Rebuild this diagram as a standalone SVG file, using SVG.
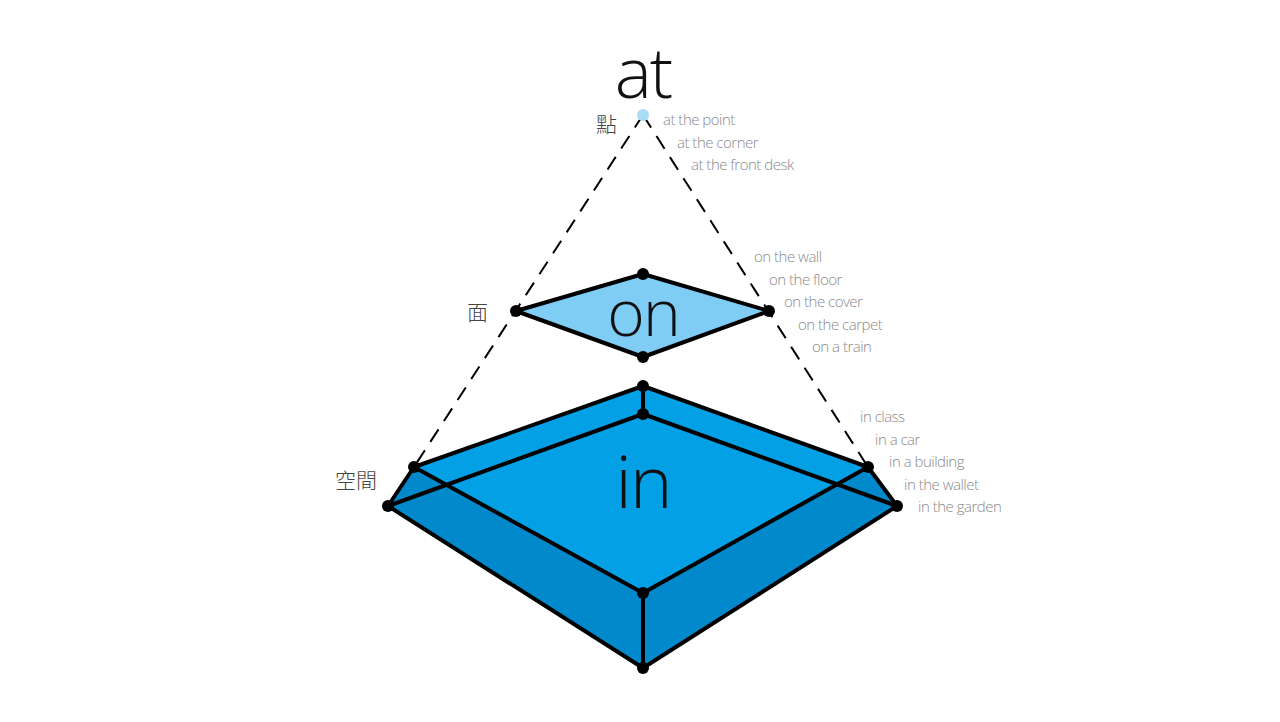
<svg xmlns="http://www.w3.org/2000/svg" width="1280" height="722" viewBox="0 0 1280 722">
<style>
.e{stroke:#000;stroke-width:4;stroke-linejoin:round;fill:none}
.d{fill:#000}
.lab{font-family:"Open Sans","Noto Sans",sans-serif;font-size:15px;fill:#8a8a8a;font-weight:300;letter-spacing:-0.5px}
.big{font-family:"Open Sans","Noto Sans",sans-serif;font-weight:300;fill:#111;text-anchor:middle;letter-spacing:-2px}
.cjk{font-family:"Noto Sans CJK TC",sans-serif;font-size:21px;fill:#444;font-weight:300}
</style>
<rect width="1280" height="722" fill="#fff"/>
<g id="connectors">
<line x1="643" y1="115" x2="414" y2="467" stroke="#000" stroke-width="2" stroke-dasharray="15,10"/>
<line x1="643" y1="115" x2="868" y2="467" stroke="#000" stroke-width="2" stroke-dasharray="15,10"/>
</g>
<g id="at">
<text class="big" x="643" y="98" font-size="70">at</text>
<circle cx="643" cy="115" r="6" fill="#a9dcf5"/>
<text class="cjk" x="596" y="132">點</text>
<text class="lab" x="663" y="125">at the point</text>
<text class="lab" x="677" y="148">at the corner</text>
<text class="lab" x="691" y="170">at the front desk</text>
</g>
<g id="on">
<polygon points="516,311 643,274 769,311 643,357" class="e" style="fill:#7fcdf5"/>
<text class="big" x="643" y="336" font-size="64">on</text>
<circle class="d" cx="516" cy="311" r="6"/><circle class="d" cx="643" cy="274" r="6"/><circle class="d" cx="769" cy="311" r="6"/><circle class="d" cx="643" cy="357" r="6"/>
<text class="cjk" x="467" y="320">面</text>
<text class="lab" x="754" y="262">on the wall</text>
<text class="lab" x="769" y="285">on the floor</text>
<text class="lab" x="784" y="307">on the cover</text>
<text class="lab" x="798" y="330">on the carpet</text>
<text class="lab" x="812" y="352">on a train</text>
</g>
<g id="in">
<polygon points="643,386 868,467 897,506 643,668 388,506 414,467" fill="#0289cc"/>
<polygon points="414,467 643,386 868,467 643,593" fill="#03a0e5"/>
<polyline class="e" points="414,467 643,386 868,467 897,506 643,668 388,506 414,467"/>
<polyline class="e" points="388,506 643,414 897,506"/>
<polyline class="e" points="414,467 643,593 868,467"/>
<line class="e" x1="643" y1="386" x2="643" y2="414"/>
<line class="e" x1="643" y1="593" x2="643" y2="668"/>
<text class="big" x="643" y="508" font-size="72">in</text>
<circle class="d" cx="643" cy="386" r="6"/><circle class="d" cx="643" cy="414" r="6"/><circle class="d" cx="414" cy="467" r="6"/><circle class="d" cx="868" cy="467" r="6"/><circle class="d" cx="388" cy="506" r="6"/><circle class="d" cx="897" cy="506" r="6"/><circle class="d" cx="643" cy="593" r="6"/><circle class="d" cx="643" cy="668" r="6"/>
<text class="cjk" x="335" y="488">空間</text>
<text class="lab" x="860" y="422">in class</text>
<text class="lab" x="875" y="445">in a car</text>
<text class="lab" x="889" y="467">in a building</text>
<text class="lab" x="904" y="490">in the wallet</text>
<text class="lab" x="918" y="512">in the garden</text>
</g>
</svg>
